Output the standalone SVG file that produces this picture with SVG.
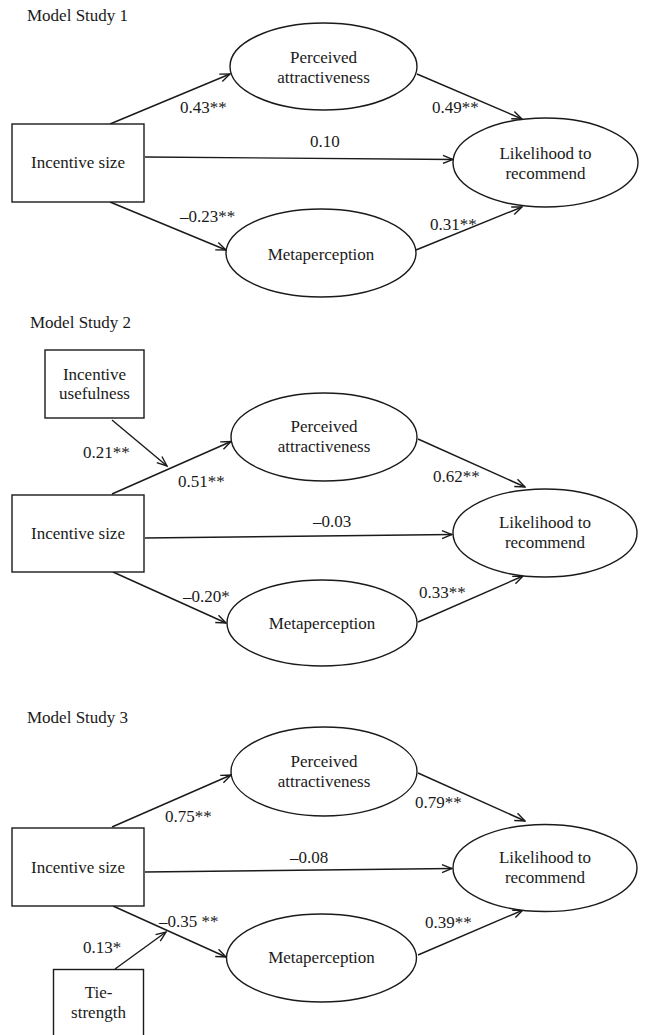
<svg xmlns="http://www.w3.org/2000/svg" width="646" height="1035" viewBox="0 0 646 1035">
<style>
.m{text-anchor:middle}
.n{fill:#fff;stroke:#1a1a1a;stroke-width:1.4}
.c{stroke:#1a1a1a;stroke-width:1.4;fill:none;marker-end:url(#arr)}
</style>
<defs>
<marker id="arr" viewBox="0 0 12 10" refX="11" refY="5" markerWidth="12" markerHeight="10" orient="auto" markerUnits="userSpaceOnUse">
<path d="M1,1 L11,5 L1,9" fill="none" stroke="#1a1a1a" stroke-width="1.4"/>
</marker>
</defs>
<rect width="646" height="1035" fill="#fff"/>

<g font-family="Liberation Serif" font-size="17" fill="#1a1a1a">
<text x="27" y="21">Model Study 1</text>
<text x="30" y="328">Model Study 2</text>
<text x="27" y="723">Model Study 3</text>
</g>

<g id="connectors">
<line class="c" x1="110" y1="124" x2="230" y2="74"/>
<line class="c" x1="145" y1="157" x2="453" y2="159.5"/>
<line class="c" x1="417" y1="74" x2="522" y2="119"/>
<line class="c" x1="110" y1="202" x2="226" y2="250"/>
<line class="c" x1="416" y1="250" x2="522" y2="207"/>
<line class="c" x1="112" y1="494" x2="231" y2="441.5"/>
<line class="c" x1="112" y1="420" x2="167" y2="466"/>
<line class="c" x1="145" y1="538" x2="452" y2="534.5"/>
<line class="c" x1="418" y1="439" x2="525" y2="487"/>
<line class="c" x1="113" y1="572" x2="226" y2="623"/>
<line class="c" x1="418" y1="622" x2="523" y2="576"/>
<line class="c" x1="112" y1="827" x2="231" y2="775"/>
<line class="c" x1="145" y1="872" x2="452" y2="868.5"/>
<line class="c" x1="418" y1="773" x2="525" y2="821"/>
<line class="c" x1="113" y1="906" x2="226" y2="957"/>
<line class="c" x1="115" y1="969" x2="166" y2="932"/>
<line class="c" x1="418" y1="955" x2="523" y2="910"/>
</g>

<g id="labels" font-family="Liberation Serif" font-size="17" fill="#1a1a1a">
<text x="180" y="113">0.43**</text>
<text x="310" y="147">0.10</text>
<text x="432" y="113">0.49**</text>
<text x="180" y="222">–0.23**</text>
<text x="430" y="230">0.31**</text>

<text x="83" y="458">0.21**</text>
<text x="178" y="487">0.51**</text>
<text x="313" y="527">–0.03</text>
<text x="433" y="482">0.62**</text>
<text x="183" y="602">–0.20*</text>
<text x="419" y="598">0.33**</text>

<text x="165" y="822">0.75**</text>
<text x="290" y="863">–0.08</text>
<text x="415" y="808">0.79**</text>
<text x="159" y="927">–0.35 **</text>
<text x="83" y="953">0.13*</text>
<text x="425" y="928">0.39**</text>
</g>

<g font-family="Liberation Serif" font-size="17" fill="#1a1a1a">
<g id="s1-incentive-size">
<rect class="n" x="12" y="124" width="132" height="78"/>
<text class="m" x="78" y="168">Incentive size</text>
</g>
<g id="s1-perceived">
<ellipse class="n" cx="323.5" cy="66.5" rx="93.5" ry="43.5"/>
<text class="m" x="323.5" y="63">Perceived</text>
<text class="m" x="323.5" y="83">attractiveness</text>
</g>
<g id="s1-likelihood">
<ellipse class="n" cx="545.5" cy="162.5" rx="92.5" ry="44.5"/>
<text class="m" x="545.5" y="159">Likelihood to</text>
<text class="m" x="545.5" y="179">recommend</text>
</g>
<g id="s1-metaperception">
<ellipse class="n" cx="321" cy="253" rx="95" ry="44"/>
<text class="m" x="321" y="260">Metaperception</text>
</g>

<g id="s2-usefulness">
<rect class="n" x="45" y="350" width="99" height="68"/>
<text class="m" x="94.5" y="380">Incentive</text>
<text class="m" x="94.5" y="399">usefulness</text>
</g>
<g id="s2-incentive-size">
<rect class="n" x="12" y="495" width="132" height="77"/>
<text class="m" x="78" y="539">Incentive size</text>
</g>
<g id="s2-perceived">
<ellipse class="n" cx="324" cy="437" rx="93" ry="44"/>
<text class="m" x="324" y="432">Perceived</text>
<text class="m" x="324" y="452">attractiveness</text>
</g>
<g id="s2-likelihood">
<ellipse class="n" cx="545" cy="533" rx="92" ry="44"/>
<text class="m" x="545" y="528">Likelihood to</text>
<text class="m" x="545" y="548">recommend</text>
</g>
<g id="s2-metaperception">
<ellipse class="n" cx="322" cy="623" rx="95" ry="43"/>
<text class="m" x="322" y="629">Metaperception</text>
</g>

<g id="s3-incentive-size">
<rect class="n" x="12" y="828" width="132" height="78"/>
<text class="m" x="78" y="873">Incentive size</text>
</g>
<g id="s3-perceived">
<ellipse class="n" cx="324" cy="771.5" rx="93" ry="44.5"/>
<text class="m" x="324" y="767">Perceived</text>
<text class="m" x="324" y="787">attractiveness</text>
</g>
<g id="s3-likelihood">
<ellipse class="n" cx="545" cy="868" rx="92" ry="43.5"/>
<text class="m" x="545" y="863">Likelihood to</text>
<text class="m" x="545" y="883">recommend</text>
</g>
<g id="s3-metaperception">
<ellipse class="n" cx="321.5" cy="958" rx="95" ry="44"/>
<text class="m" x="321.5" y="963">Metaperception</text>
</g>
<g id="s3-tie-strength">
<rect class="n" x="53.5" y="969.5" width="90" height="75"/>
<text class="m" x="98.5" y="998">Tie-</text>
<text class="m" x="98.5" y="1018">strength</text>
</g>
</g>
</svg>
